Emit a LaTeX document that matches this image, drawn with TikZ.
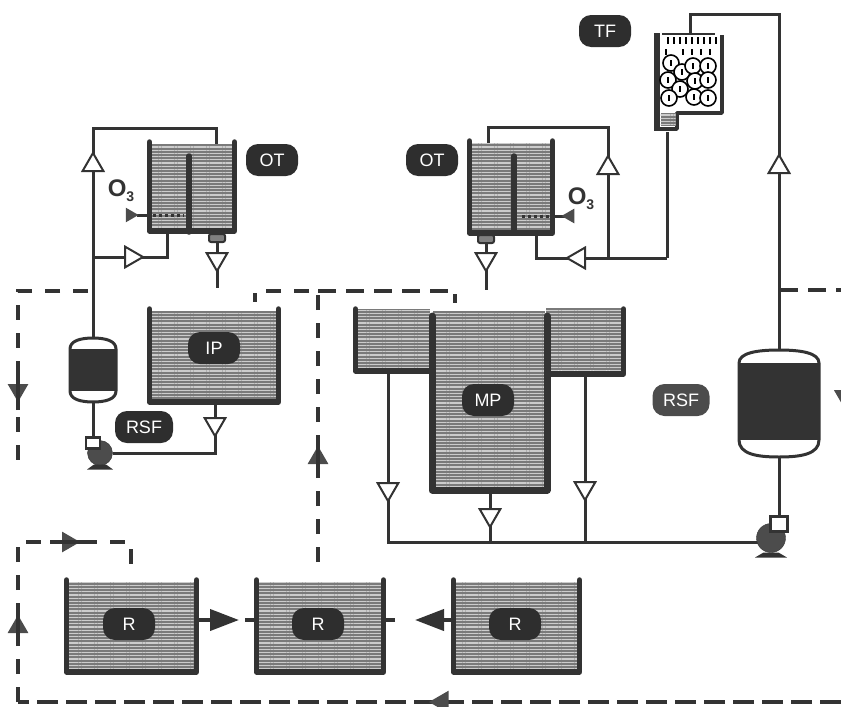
\documentclass[tikz,border=0pt]{standalone}
\usepackage{fontspec}
\setmainfont{Liberation Sans}
\usepackage{xcolor}
\usepackage{tikz}
\usetikzlibrary{positioning,arrows.meta,shapes.geometric,patterns.meta,backgrounds,calc}
\definecolor{inkdark}{gray}{0.2}
\definecolor{waterfill}{gray}{0.48}
\definecolor{headgray}{gray}{0.3}
\tikzset{
water/.style={
draw=none,
inner sep=0pt,
fill=waterfill,
postaction={pattern={Lines[distance=3.2pt,line width=1.1pt]},pattern color=white!80!black}
},
wall/.style={
draw=inkdark,
line width=5.5pt,
line join=round,
line cap=round
},
pipe/.style={
draw=inkdark,
line width=3pt,
line join=miter
},
recycle/.style={
draw=inkdark,
line width=4pt,
dash pattern=on 15pt off 13pt
},
recyclelong/.style={
draw=inkdark,
line width=4pt,
dash pattern=on 21pt off 8pt
},
label/.style={
fill=black!82,
text=white,
rounded corners=12pt,
minimum width=52pt,
minimum height=32pt,
inner sep=0pt,
font=\fontsize{18}{18}\selectfont
},
valve/.style={
regular polygon,
regular polygon sides=3,
draw=inkdark,
fill=white,
line width=2pt,
inner sep=0pt,
minimum size=24pt
},
gashead/.style={
valve,
draw=none,
fill=headgray,
minimum size=17pt
},
flowtip/.style={
draw=inkdark,
line width=4pt,
-{Triangle[length=29pt,width=21pt,fill=inkdark]}
},
outlet/.style={
draw=inkdark,
fill=gray,
line width=2pt,
rounded corners=2pt,
inner sep=0pt,
minimum width=16pt,
minimum height=8pt
},
media/.style={
draw=none,
fill=black!80,
inner sep=0pt
},
pumpbody/.style={
circle,
draw=inkdark,
fill=black!70,
inner sep=0pt
},
pumpbox/.style={
draw=inkdark,
fill=white,
line width=2.5pt,
inner sep=0pt
},
pumpbase/.style={
trapezium,
trapezium stretches=true,
fill=inkdark,
inner sep=1pt,
minimum height=5pt
},
ball/.style={
circle,
draw=black,
line width=1.6pt,
fill=white,
inner sep=0pt,
minimum size=16pt
},
drip/.style={
draw=black,
line width=1.6pt
},
gas/.style={
font=\bfseries\fontsize{24}{24}\selectfont,
text=inkdark,
inner sep=0pt
}
}
\newcommand{\ozone}{O\raisebox{-5pt}{\bfseries\fontsize{14}{14}\selectfont 3}}
\newcommand{\tank}[5]{
\node[water,minimum width={#4-#2-7},minimum height={#5-#3-6}] (#1) at ({(#2+#4)/2},{(#3+#5)/2+1}) {};
\draw[wall] (#2+2.5,#3+2) -- (#2+2.5,#5-3) -- (#4-2.5,#5-3) -- (#4-2.5,#3+2);
}
\newcommand{\filter}[7]{
\node[media,minimum width={#3-#2},minimum height={#7-#6}] (#1) at ({(#2+#3)/2},{(#6+#7)/2}) {};
\coordinate (#1top) at ({(#2+#3)/2},#4);
\coordinate (#1bot) at ({(#2+#3)/2},#5);
\draw[draw=inkdark,line width=3pt] (#2,#6) .. controls (#2,#4+3) and ({#2+(#3-#2)*0.22},#4) .. (#1top) .. controls ({#3-(#3-#2)*0.22},#4) and (#3,#4+3) .. (#3,#6) -- (#3,#7) .. controls (#3,#5-3) and ({#3-(#3-#2)*0.22},#5) .. (#1bot) .. controls ({#2+(#3-#2)*0.22},#5) and (#2,#5-3) .. (#2,#7) -- cycle;
}

\begin{document}
\begin{tikzpicture}[x=1pt,y=-1pt]
\useasboundingbox (0,0) rectangle (841,707);

\tank{otl}{147}{140}{237}{234}
\tank{otr}{467}{139}{555}{236}
\tank{ip}{147}{307}{281}{405}
\tank{ra}{64}{578}{199}{675}
\tank{rb}{254}{578}{386}{675}
\tank{rc}{451}{578}{582}{675}

\node[water,minimum width=72pt,minimum height=60pt] (mpl) at (394,339) {};
\node[water,minimum width=112pt,minimum height=176pt] (mp) at (489,399) {};
\node[water,minimum width=76pt,minimum height=62pt] (mpr) at (584,339) {};
\draw[wall] (355.5,309) -- (355.5,371) -- (432,371);
\draw[wall,line width=7pt] (432,316) -- (432,490) -- (547,490) -- (547,316);
\draw[wall] (547,374) -- (623.5,374) -- (623.5,309);

\draw[wall] (189,156) -- (189,232);
\draw[wall] (514,156) -- (514,233);

\filter{rsfl}{70}{116}{338}{402}{349}{391}
\filter{rsfr}{739}{819}{350}{457}{363}{440}

\node[pumpbody,minimum size=25pt] (pumpl) at (100,453) {};
\node[pumpbox,minimum width=14pt,minimum height=11pt] (boxl) at (93,443) {};
\node[pumpbase,minimum width=26pt] (basel) at (100,467) {};
\node[pumpbody,minimum size=29pt] (pumpr) at (771,538) {};
\node[pumpbox,minimum width=17pt,minimum height=15pt] (boxr) at (779,524) {};
\node[pumpbase,minimum width=32pt] (baser) at (771,555) {};

\node[outlet] (outl) at (217,238) {};
\node[outlet] (outr) at (486,239) {};

\node[valve,shape border rotate=0] (va) at (93,165) {};
\node[valve,shape border rotate=-90] (vb) at (131,257) {};
\node[valve,shape border rotate=180] (vc) at (217,259) {};
\node[valve,shape border rotate=180] (vd) at (215,424) {};
\node[valve,shape border rotate=180] (ve) at (486,259) {};
\node[valve,shape border rotate=90] (vf) at (579,258) {};
\node[valve,shape border rotate=0] (vg) at (608,168) {};
\node[valve,shape border rotate=0] (vh) at (779,167) {};
\node[valve,shape border rotate=180] (vi) at (388,489) {};
\node[valve,shape border rotate=180] (vj) at (490,515) {};
\node[valve,shape border rotate=180] (vk) at (585,488) {};

\coordinate (ja) at (93,257);
\coordinate (jb) at (667,258);
\coordinate (jc) at (608,258);
\coordinate (jd) at (771,542);

\node[draw=inkdark,line width=1pt,inner sep=0pt,minimum width=52pt,minimum height=1pt] (dist) at (688,34) {};

\begin{scope}[on background layer]
\draw[pipe] (rsfltop) -- (va.center) |- (127,128) -| (otl.north -| 216,0);
\draw[pipe] (ja) -- (vb.center) -| (otl.south -| 167,0);
\draw[pipe] (outl) -- (vc.center) -- (217,288);
\draw[pipe] (rsflbot) -- (boxl.north -| rsflbot);
\draw[pipe] (pumpl) -| (vd.center) -- (ip.south -| vd.center);
\draw[pipe] (otr.north -| 488,0) |- (vg.center |- 0,127) -- (jc);
\draw[pipe] (jb) -- (vf.center) -| (otr.south -| 536,0);
\draw[pipe] (jb) -- (667,132);
\draw[pipe] (outr) -- (ve.center) -- (486,290);
\draw[pipe] (690,34) |- (779,14) -- (vh.center) -- (rsfrtop);
\draw[pipe] (rsfrbot) -- (boxr.north -| rsfrbot);
\draw[pipe] (jd) -- (388,542) -- (vi.center) -- (mpl.south -| vi.center);
\draw[pipe] (490,542) -- (vj.center) -- (mp.south -| vj.center);
\draw[pipe] (585,542) -- (vk.center) -- (mpr.south -| vk.center);
\end{scope}

\draw[wall,line width=3.5pt,line cap=butt] (657,129) -- (677,129) -- (677,113) -- (722,113) -- (722,35);
\draw[wall,line cap=butt] (657,33) -- (657,131);
\node[water,minimum width=15pt,minimum height=13pt] (sump) at (668,119) {};
\foreach \x in {668,674,...,716}
\draw[drip,line width=2pt] (\x,37) -- (\x,44);
\foreach \x in {666,683,692,701,710}
\draw[drip] (\x,49) -- (\x,55);
\foreach \x/\y in {671/63,682/72,693/66,708/66,668/80,695/81,708/80,680/89,669/98,694/97,708/98}{
\node[ball] (ball\x\y) at (\x,\y) {};
\draw[drip] (\x,\y-3) -- (\x,\y+3);
}

\draw[pipe,dashed] (147,215) -- (184,215);
\draw[pipe] (137,215) -- (147,215);
\node[gashead,shape border rotate=-90] (gasl) at (130,215) {};
\draw[pipe,dashed] (555,216) -- (520,216);
\draw[pipe] (555,216) -- (565,216);
\node[gashead,shape border rotate=90] (gasr) at (570,216) {};
\node[gas] (ozl) at (121,191) {\ozone};
\node[gas] (ozr) at (581,199) {\ozone};

\node[label] (lotl) at (272,160) {OT};
\node[label] (lotr) at (432,160) {OT};
\node[label] (ltf) at (605,31) {TF};
\node[label] (lip) at (214,348) {IP};
\node[label] (lmp) at (488,400) {MP};
\node[label,minimum width=58pt] (lrsfl) at (144,427) {RSF};
\node[label,minimum width=57pt,fill=black!70] (lrsfr) at (681,400) {RSF};
\node[label] (lra) at (129,624) {R};
\node[label] (lrb) at (318,624) {R};
\node[label] (lrc) at (515,624) {R};

\coordinate (ca) at (88,291);
\coordinate (cb) at (18,291);
\coordinate (cc) at (18,467);
\coordinate (cd) at (318,291);
\coordinate (ce) at (255,291);
\coordinate (cf) at (255,302);
\coordinate (cg) at (455,291);
\coordinate (ch) at (455,303);
\coordinate (ci) at (318,562);
\coordinate (cj) at (841,702);
\coordinate (ck) at (18,702);
\coordinate (cl) at (18,542);
\coordinate (cm) at (131,542);
\coordinate (cn) at (131,566);
\coordinate (co) at (780,290);
\coordinate (cp) at (841,290);
\coordinate (cq) at (239,620);
\coordinate (cr) at (245,620);
\coordinate (cs) at (415,620);
\coordinate (ct) at (395,620);

\draw[recycle] (ca) -- (cb) -- (cc);
\draw[recycle] (ci) -- (cd) -- (ce) -- (cf);
\draw[recycle,dash pattern=on 18pt off 10pt] (cd) -- (cg) -- (ch);
\draw[recycle,dash pattern=on 18pt off 10pt] (co) -- (cp);
\draw[recyclelong] (cj) -- (ck);
\draw[recycle] (ck) -- (cl) -- (cm) -- (cn);

\node[gashead,minimum size=24pt,shape border rotate=180] (hda) at (18,390) {};
\node[gashead,minimum size=24pt,shape border rotate=0] (hdb) at (18,627) {};
\node[gashead,minimum size=24pt,shape border rotate=-90] (hdc) at (68,542) {};
\node[gashead,minimum size=24pt,shape border rotate=0] (hdd) at (318,458) {};
\node[gashead,minimum size=26pt,shape border rotate=90] (hde) at (442,702) {};
\node[gashead,minimum size=28pt,shape border rotate=180] (hdf) at (846,397) {};

\draw[recycle,solid] ([yshift=-20pt]hda.center) -- ([yshift=20pt]hda.center);
\draw[recycle,solid] ([yshift=-10pt]hdb.center) -- ([yshift=14pt]hdb.center);
\draw[recycle,solid] ([xshift=-18pt]hdc.center) -- ([xshift=28pt]hdc.center);
\draw[recycle,solid] ([yshift=-10pt]hdd.center) -- ([yshift=16pt]hdd.center);

\draw[flowtip] (ra.east |- cq) -- (cq);
\draw[recycle,solid] (cr) -- (rb.west |- cr);
\draw[flowtip] (rc.west |- cs) -- (cs);
\draw[recycle,solid] (ct) -- (rb.east |- ct);
\end{tikzpicture}
\end{document}
